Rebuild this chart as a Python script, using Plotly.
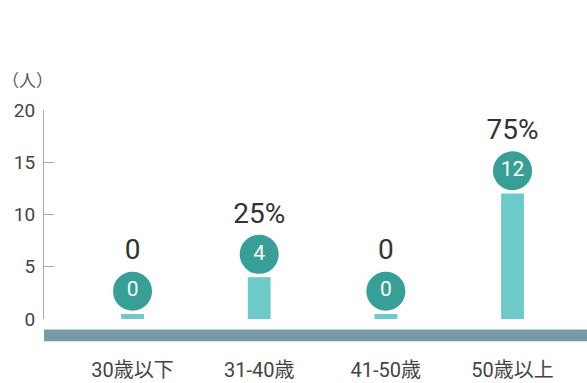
import plotly.graph_objects as go

categories = ["30歳以下", "31-40歳", "41-50歳", "50歳以上"]
counts = [0, 4, 0, 12]
pct_labels = ["0", "25%", "0", "75%"]
y_ticks = [0, 5, 10, 15, 20]

FONT = "Roboto, 'Noto Sans CJK JP', sans-serif"
BAR_COLOR = "#6ccac9"
CIRCLE_COLOR = "#379f95"
BAND_COLOR = "#7a99a8"

plot_h = 210.5
px_per_unit = plot_h / 20.0
min_bar = 5 / px_per_unit
disp = [max(v, min_bar) for v in counts]
circle_y = [d + 23 / px_per_unit for d in disp]
label_y = [c + 39 / px_per_unit for c in circle_y]
xs = list(range(len(categories)))

fig = go.Figure()
fig.add_trace(go.Bar(x=xs, y=disp, width=0.18, marker=dict(color=BAR_COLOR, line=dict(width=0)),
                     hoverinfo="skip"))
fig.add_trace(go.Scatter(x=xs, y=circle_y, mode="markers+text",
                         marker=dict(size=41, color=CIRCLE_COLOR, line=dict(color="white", width=2)),
                         text=[str(v) for v in counts], textposition="middle center",
                         textfont=dict(family=FONT, size=21, color="white"),
                         cliponaxis=False, hoverinfo="skip"))
fig.add_trace(go.Scatter(x=xs, y=label_y, mode="text", text=pct_labels,
                         textposition="middle center",
                         textfont=dict(family=FONT, size=28, color="#333333"),
                         cliponaxis=False, hoverinfo="skip"))

fig.add_shape(type="rect", xref="paper", yref="paper", x0=0, x1=1,
              y0=-(330 - 319.5) / plot_h, y1=-(342 - 319.5) / plot_h,
              fillcolor=BAND_COLOR, line=dict(width=0), layer="above")

fig.add_annotation(text="（人）", xref="paper", yref="paper", x=-44 / 543, y=1 + 31 / plot_h,
                   xanchor="left", yanchor="middle", showarrow=False,
                   font=dict(family="'Noto Sans CJK JP'", size=17, color="#555555"))

fig.update_layout(
    width=587, height=383,
    margin=dict(l=44, r=0, t=109.5, b=63.5),
    paper_bgcolor="white", plot_bgcolor="white",
    showlegend=False,
    font=dict(family=FONT, color="#444444"),
    xaxis=dict(range=[-0.699, 3.588], tickmode="array", tickvals=xs, ticktext=categories,
               showgrid=False, zeroline=False, showline=False, ticks="",
               tickfont=dict(family=FONT, size=20, color="#444444"),
               ticklabelstandoff=37, automargin=False, fixedrange=True),
    yaxis=dict(range=[0, 20], tickmode="array", tickvals=y_ticks,
               showgrid=False, zeroline=False, showline=True, linecolor="#aaaaaa", linewidth=1,
               ticks="inside", ticklen=10, tickcolor="#aaaaaa",
               tickfont=dict(family=FONT, size=19, color="#444444"),
               ticklabelstandoff=4, automargin=False, fixedrange=True),
)

fig.write_html("out.html", config={"displayModeBar": False},
               post_script="document.body.style.margin='0';document.body.style.overflow='hidden';")
